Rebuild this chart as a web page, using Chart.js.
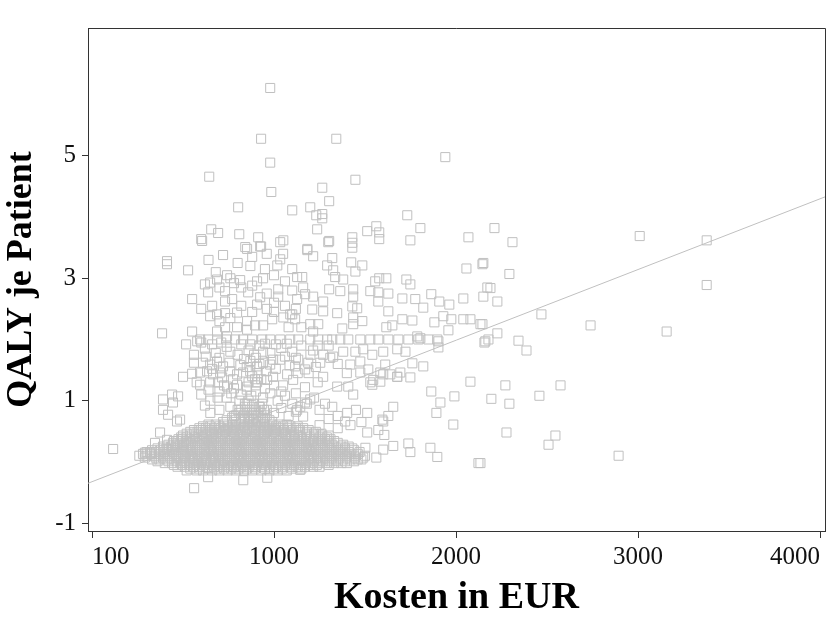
<!DOCTYPE html>
<html>
<head>
<meta charset="utf-8">
<script src="https://cdn.jsdelivr.net/npm/chart.js@4"></script>
<style>
  body { margin: 0; background: #fff; }
  #wrap { width: 837px; height: 623px; }
</style>
</head>
<body>
<div id="wrap"><canvas id="qalyChart" width="837" height="623"></canvas></div>
<script>
// --- Data ---
const xTickValues = [0, 1000, 2000, 3000, 4000];
const xTickLabels = ['100', '1000', '2000', '3000', '4000'];
const yTickValues = [-1, 1, 3, 5];

// regression line (endpoints, EUR / QALY)
const fitCosts = [-22, 4027];
const fitQalys = [-0.35, 4.33];

// sparse points above the cloud
const upperPoints = [
  [979, 6.11], [929, 5.28], [1342, 5.28], [979, 4.89], [644, 4.66], [1447, 4.61], [1265, 4.48],
  [985, 4.41], [1303, 4.26], [803, 4.16], [1100, 4.11], [1199, 4.16], [1232, 4.03], [1265, 4.05],
  [1265, 3.98], [1237, 3.80], [655, 3.80], [600, 3.64], [693, 3.74], [809, 3.72], [913, 3.67],
  [1051, 3.62], [1303, 3.61], [1430, 3.67], [1430, 3.58], [1430, 3.50], [842, 3.51], [929, 3.52],
  [1183, 3.48], [1941, 4.98], [1732, 4.03], [1804, 3.82], [1512, 3.77], [1562, 3.85], [1578, 3.75],
  [1578, 3.64], [1749, 3.62], [2068, 3.67], [2211, 3.82], [2310, 3.59],
  [3009, 3.69], [3377, 3.62], [3377, 2.89], [2739, 2.23], [3157, 2.13], [2893, 0.10]
];

// points right of the main cloud
const rightPoints = [
  [2150, 3.25], [2293, 3.07], [2189, 2.84], [2150, 2.70], [2227, 2.62], [2469, 2.41], [2145, 2.25],
  [2227, 2.10], [2178, 2.00], [2156, 1.95], [2343, 1.98], [2387, 1.82], [2271, 1.25], [2574, 1.25],
  [2194, 1.03], [2293, 0.95], [2458, 1.08], [2277, 0.48], [2546, 0.43], [2508, 0.28], [2134, -0.02],
  [2057, 3.16], [2145, 3.23], [2172, 2.85], [2040, 2.67], [1963, 2.57], [1908, 2.62], [1864, 2.74],
  [1776, 2.66], [1705, 2.67], [1820, 2.52], [1628, 2.46], [1974, 2.33], [2040, 2.33], [2079, 2.33],
  [2134, 2.25], [1930, 2.38], [1881, 2.28], [1760, 2.31], [1705, 2.33], [1650, 2.23], [1617, 2.20],
  [1958, 2.15], [1787, 2.05], [1804, 2.02], [1903, 1.97], [1903, 1.87], [2161, 1.97],
  [1820, 1.56], [1760, 1.61], [1749, 1.38], [1677, 1.39], [1611, 1.59], [1600, 1.43], [1545, 1.34],
  [1540, 1.26], [2079, 1.31], [1991, 1.07], [1914, 0.97], [1864, 1.15], [1892, 0.80], [1985, 0.61],
  [1655, 0.90], [1628, 0.75], [1600, 0.66], [1573, 0.52], [1512, 0.48], [1606, 0.44], [1859, 0.23],
  [1897, 0.08], [2123, -0.02], [1738, 0.30], [1749, 0.16], [1655, 0.26], [1600, 0.20], [1562, 0.07],
  [1502, 0.23], [1144, -0.13]
];

// upper cloud between 2 and 3.6 QALY
const midPoints = [
  [1298, 3.59], [1183, 3.46], [1215, 3.36], [1292, 3.21], [1320, 3.33], [1424, 3.26], [1485, 3.21],
  [1447, 3.11], [1325, 3.13], [1127, 3.02], [1155, 3.02], [1336, 3.02], [1380, 2.98], [1556, 2.95],
  [1578, 3.00], [1617, 3.00], [1727, 2.98], [1749, 2.90], [1303, 2.82], [1364, 2.79], [1435, 2.82],
  [1435, 2.70], [1529, 2.79], [1573, 2.77], [1628, 2.75], [1573, 2.62], [1127, 2.66], [1171, 2.74],
  [1215, 2.70], [1270, 2.62], [1210, 2.49], [1270, 2.46], [1347, 2.43], [1430, 2.54], [1457, 2.51],
  [1485, 2.30], [1435, 2.36], [1435, 2.25], [1375, 2.18], [1243, 2.25], [1215, 2.13], [1199, 2.25],
  [1116, 2.33], [1100, 2.41],
  [385, 2.10], [528, 3.13], [412, 3.28], [412, 3.23], [720, 3.38], [605, 3.61], [550, 2.66],
  [638, 2.77], [517, 1.92], [550, 2.13], [578, 1.97], [500, 1.39], [550, 1.44], [649, 2.93],
  [687, 2.98], [742, 3.05], [814, 2.97], [852, 3.48], [924, 3.52], [1034, 3.59], [907, 2.95],
  [940, 3.00], [1034, 3.31], [1018, 3.21], [1023, 2.82], [1023, 2.70], [858, 2.77], [924, 2.69],
  [907, 2.57], [731, 2.79], [731, 2.62], [770, 2.66], [649, 2.38], [687, 2.41], [731, 2.43],
  [797, 2.44], [852, 2.30], [896, 2.23], [940, 2.23], [990, 2.33], [1051, 2.36], [1089, 2.41],
  [687, 2.13], [731, 2.20], [797, 2.20], [852, 2.16], [742, 2.05],
  [600, 2.50], [660, 2.55], [700, 2.30], [760, 2.35], [820, 2.55], [880, 2.45], [960, 2.50],
  [1000, 2.60], [1060, 2.55], [1120, 2.50], [1150, 2.20], [1080, 2.20], [1000, 2.45], [960, 2.75],
  [880, 2.88], [820, 2.85], [780, 2.92], [700, 2.85], [620, 2.90], [1100, 2.80], [1060, 2.95],
  [1160, 2.85], [1000, 3.05], [950, 3.15], [870, 3.20], [800, 3.25], [760, 3.00], [680, 3.10],
  [640, 3.30], [1100, 3.15], [1050, 3.40], [960, 3.40], [880, 3.35]
];

// the row of patients at exactly 2 QALY
const rowTwoCosts = [594, 638, 687, 737, 786, 830, 880, 935, 979, 1034, 1089, 1133, 1199, 1243,
  1292, 1320, 1364, 1408, 1474, 1529, 1573, 1628, 1683, 1738, 1793, 1848, 1897];

// between 0.6 and 2 QALY
const lowerPoints = [
  [1215, 1.82], [1270, 1.75], [1325, 1.72], [1380, 1.80], [1447, 1.80], [1490, 1.84], [1540, 1.75],
  [1600, 1.80], [1677, 1.84], [1722, 1.80], [1133, 1.67], [1188, 1.62], [1254, 1.62], [1309, 1.70],
  [1419, 1.59], [1474, 1.64], [1518, 1.51], [1584, 1.46], [1639, 1.43], [1694, 1.46], [1116, 1.56],
  [1171, 1.51], [1270, 1.39], [1347, 1.23], [1408, 1.23], [1435, 1.10], [1474, 1.46], [1529, 1.30],
  [1584, 1.31], [1677, 1.39], [1320, 0.90], [1402, 0.80], [1391, 0.66], [1512, 0.80], [1595, 0.69],
  [1144, 0.90], [1171, 0.97], [1199, 1.02], [1160, 0.74], [1127, 0.85],
  [610, 1.62], [649, 1.59], [687, 1.64], [720, 1.56], [594, 1.46], [632, 1.48], [665, 1.43],
  [704, 1.46], [759, 1.48], [797, 1.43], [830, 1.46], [869, 1.48], [907, 1.56], [940, 1.62],
  [979, 1.59], [995, 1.67], [1034, 1.67], [594, 1.26], [649, 1.30], [693, 1.30], [742, 1.23],
  [797, 1.26], [852, 1.23], [907, 1.30], [962, 1.34], [995, 1.39], [1072, 1.43], [1105, 1.34],
  [620, 1.85], [680, 1.78], [740, 1.88], [800, 1.75], [860, 1.82], [920, 1.90], [980, 1.78],
  [1040, 1.86], [1100, 1.80], [1150, 1.90], [700, 1.70], [900, 1.70], [1060, 1.72],
  [600, 1.10], [650, 1.00], [700, 1.15], [740, 1.05], [780, 1.20], [820, 1.10], [860, 1.00],
  [900, 1.15], [940, 1.05], [980, 1.12], [1020, 1.00], [1060, 1.08], [1100, 0.95], [760, 0.90],
  [800, 0.85], [840, 0.95], [880, 0.80], [920, 0.90], [960, 0.85], [1000, 0.80], [1040, 0.88],
  [700, 0.85], [650, 0.80], [620, 0.92], [780, 0.75], [860, 0.70], [940, 0.72], [1080, 0.75],
  [1120, 0.82], [1180, 0.95], [1220, 1.05], [1250, 0.85], [1280, 0.95], [1300, 0.70], [1350, 0.75],
  [1450, 0.85], [1480, 0.65], [1420, 0.60], [1350, 0.55], [1250, 0.60],
  [850, 1.55], [870, 1.65], [890, 1.75], [910, 1.45], [930, 1.35], [880, 1.40], [860, 1.30],
  [900, 1.25], [920, 1.60], [940, 1.80], [870, 1.92],
  [625, 1.72], [660, 1.52], [715, 1.38], [755, 1.62], [775, 1.35], [815, 1.58], [835, 1.68],
  [895, 1.35], [955, 1.48], [1010, 1.52], [1050, 1.25], [1085, 1.58], [1130, 1.45], [560, 1.62],
  [575, 1.30], [640, 1.18], [690, 1.05], [725, 1.25], [765, 1.12], [810, 1.00], [850, 1.18],
  [875, 1.08], [950, 1.20], [1000, 1.25], [1040, 1.15], [1120, 1.12], [1170, 1.22], [560, 1.75],
  [600, 1.95], [660, 1.92], [710, 1.95], [760, 1.80], [820, 1.92], [950, 1.93], [1010, 1.92],
  [1070, 1.93], [1120, 1.70], [1200, 1.75], [1240, 1.90], [1300, 1.90], [1350, 1.60], [1400, 1.45],
  [1240, 1.30], [1190, 1.45], [1230, 1.55],
  [390, 1.02], [440, 1.10], [473, 1.07], [445, 0.97], [390, 0.85], [418, 0.77], [467, 0.66],
  [484, 0.69], [346, 0.31], [374, 0.48], [412, 0.36], [319, 0.15], [291, 0.15], [116, 0.21],
  [638, -0.25], [831, -0.30], [963, -0.26], [561, -0.43]
];

// dense cloud near zero: QALY level per row and the costs on that row
const blobLevels = [-0.14, -0.11, -0.08, -0.05, -0.02, 0.01, 0.04, 0.07, 0.10, 0.13, 0.16, 0.19,
  0.22, 0.25, 0.28, 0.31, 0.34, 0.37, 0.40, 0.43, 0.46, 0.49, 0.52, 0.55, 0.58, 0.61, 0.65, 0.68,
  0.72, 0.76, 0.80, 0.85, 0.90, 0.95];
const blobCosts = [
  [520, 575, 610, 660, 700, 745, 790, 835, 880, 930, 975, 1020, 1070],
  [540, 590, 640, 685, 725, 765, 805, 850, 895, 950, 1000, 1045, 1100, 1150],
  [470, 510, 555, 590, 630, 670, 705, 745, 780, 820, 860, 895, 935, 975, 1010, 1050, 1090, 1130, 1170, 1215, 1250],
  [450, 495, 535, 575, 615, 650, 690, 725, 765, 800, 840, 880, 915, 955, 995, 1030, 1070, 1110, 1150, 1195, 1235, 1300],
  [400, 440, 485, 520, 560, 600, 635, 675, 710, 750, 790, 825, 865, 905, 940, 980, 1020, 1060, 1095, 1135, 1175, 1210, 1250, 1290, 1330, 1370, 1400],
  [360, 420, 465, 505, 540, 580, 620, 655, 695, 730, 770, 810, 845, 885, 920, 960, 1000, 1040, 1080, 1115, 1155, 1195, 1235, 1270, 1310, 1350, 1390, 1440],
  [330, 370, 410, 450, 490, 530, 565, 605, 645, 680, 720, 760, 800, 835, 875, 915, 950, 990, 1030, 1070, 1105, 1145, 1185, 1220, 1260, 1300, 1340, 1380, 1420, 1460, 1480],
  [290, 350, 390, 430, 470, 510, 550, 585, 625, 665, 700, 740, 780, 820, 855, 895, 935, 970, 1010, 1050, 1090, 1125, 1165, 1205, 1240, 1280, 1320, 1360, 1400, 1445, 1490],
  [260, 300, 345, 390, 430, 470, 510, 545, 585, 625, 660, 700, 740, 780, 815, 855, 895, 930, 970, 1010, 1050, 1085, 1125, 1165, 1200, 1240, 1280, 1320, 1360, 1400, 1440, 1500],
  [280, 325, 370, 410, 450, 490, 530, 565, 605, 645, 680, 720, 760, 800, 835, 875, 915, 950, 990, 1030, 1070, 1105, 1145, 1185, 1220, 1260, 1300, 1340, 1380, 1420, 1460],
  [300, 350, 395, 440, 480, 520, 555, 595, 635, 670, 710, 750, 790, 825, 865, 905, 940, 980, 1020, 1060, 1095, 1135, 1175, 1210, 1250, 1290, 1330, 1370, 1410, 1470],
  [330, 375, 420, 460, 500, 540, 575, 615, 655, 690, 730, 770, 810, 845, 885, 925, 960, 1000, 1040, 1080, 1115, 1155, 1195, 1230, 1270, 1310, 1350, 1390, 1440],
  [360, 410, 455, 495, 535, 575, 615, 650, 690, 730, 770, 805, 845, 885, 920, 960, 1000, 1040, 1075, 1115, 1155, 1190, 1230, 1270, 1310, 1350, 1390, 1430],
  [390, 435, 475, 515, 555, 595, 635, 670, 710, 750, 790, 825, 865, 905, 940, 980, 1020, 1060, 1095, 1135, 1175, 1210, 1250, 1290, 1330, 1370, 1410],
  [420, 465, 505, 545, 585, 625, 660, 700, 740, 780, 815, 855, 895, 930, 970, 1010, 1050, 1085, 1125, 1165, 1200, 1240, 1280, 1320, 1380],
  [445, 485, 525, 565, 605, 645, 680, 720, 760, 800, 835, 875, 915, 950, 990, 1030, 1070, 1105, 1145, 1185, 1220, 1260, 1300, 1350],
  [450, 470, 515, 555, 595, 635, 670, 710, 750, 790, 825, 865, 905, 940, 980, 1020, 1060, 1095, 1135, 1175, 1215, 1260, 1300, 1330],
  [475, 495, 535, 575, 615, 655, 690, 730, 770, 810, 845, 885, 925, 960, 1000, 1040, 1080, 1115, 1155, 1195, 1240, 1280, 1310],
  [490, 520, 565, 605, 645, 680, 720, 760, 800, 835, 875, 915, 950, 990, 1030, 1070, 1110, 1150, 1200, 1250, 1290],
  [500, 540, 585, 625, 660, 700, 740, 780, 815, 855, 895, 930, 970, 1010, 1050, 1090, 1130, 1175, 1220, 1265, 1300],
  [520, 560, 600, 640, 680, 715, 755, 795, 830, 870, 910, 945, 985, 1025, 1065, 1110, 1180, 1220, 1260],
  [540, 580, 620, 660, 700, 735, 775, 815, 850, 890, 930, 965, 1005, 1045, 1090, 1140, 1180, 1230],
  [560, 600, 650, 690, 730, 770, 810, 850, 890, 930, 970, 1010, 1055, 1100, 1140, 1190],
  [590, 625, 670, 710, 750, 790, 830, 870, 910, 950, 990, 1030, 1075, 1120, 1160],
  [610, 650, 700, 745, 790, 835, 880, 925, 970, 1010, 1050, 1090, 1130],
  [640, 680, 725, 770, 810, 855, 900, 945, 990, 1030, 1070],
  [720, 770, 820, 865, 910, 950, 990],
  [740, 790, 840, 885, 930, 975],
  [770, 820, 860, 900, 940],
  [790, 835, 875, 915, 960],
  [810, 850, 890, 930],
  [820, 860, 900, 945],
  [840, 880, 920],
  [850, 890, 935]
];

// --- Build datasets ---
const toXY = (p) => ({ x: p[0], y: p[1] });
const scatterData = []
  .concat(upperPoints.map(toXY))
  .concat(rightPoints.map(toXY))
  .concat(midPoints.map(toXY))
  .concat(rowTwoCosts.map((c) => ({ x: c, y: 2.0 })))
  .concat(lowerPoints.map(toXY));
blobLevels.forEach((lvl, i) => {
  blobCosts[i].forEach((c) => scatterData.push({ x: c, y: lvl }));
});
const fitData = fitCosts.map((c, i) => ({ x: c, y: fitQalys[i] }));

const SERIF = "'Liberation Serif', 'Times New Roman', serif";
const POINT_GREY = '#c0c0c0';
const AXIS_COLOR = '#333';

// draws the top and right edges of the plot frame
const frameBox = {
  id: 'frameBox',
  afterDraw(chart) {
    const { ctx, chartArea: a } = chart;
    ctx.save();
    ctx.strokeStyle = AXIS_COLOR;
    ctx.lineWidth = 1;
    ctx.beginPath();
    ctx.moveTo(a.left, a.top + 0.5);
    ctx.lineTo(a.right + 0.5, a.top + 0.5);
    ctx.lineTo(a.right + 0.5, a.bottom);
    ctx.stroke();
    ctx.restore();
  }
};

new Chart(document.getElementById('qalyChart'), {
  type: 'scatter',
  data: {
    datasets: [
      {
        data: scatterData,
        pointStyle: 'rect',
        pointRadius: 6.4,
        borderColor: POINT_GREY,
        backgroundColor: 'rgba(0,0,0,0)',
        borderWidth: 1
      },
      {
        type: 'line',
        data: fitData,
        borderColor: POINT_GREY,
        borderWidth: 1,
        pointRadius: 0,
        fill: false
      }
    ]
  },
  options: {
    responsive: false,
    animation: false,
    events: [],
    layout: { padding: { top: 28, right: 12, left: 0, bottom: 0 } },
    plugins: { legend: { display: false }, tooltip: { enabled: false } },
    scales: {
      x: {
        type: 'linear',
        min: -22,
        max: 4027,
        afterBuildTicks: (scale) => { scale.ticks = xTickValues.map((v) => ({ value: v })); },
        afterFit: (scale) => { scale.height = 92; },
        grid: { drawOnChartArea: false, drawTicks: true, tickLength: 7, color: AXIS_COLOR },
        border: { display: true, color: AXIS_COLOR, width: 1 },
        ticks: {
          align: 'inner',
          autoSkip: false,
          maxRotation: 0,
          padding: 4,
          color: '#111',
          font: { family: SERIF, size: 25 },
          callback: (v) => xTickLabels[xTickValues.indexOf(v)]
        },
        title: {
          display: true,
          text: 'Kosten in EUR',
          color: '#000',
          padding: { top: 0, bottom: 2 },
          font: { family: SERIF, size: 38, weight: 'bold' }
        }
      },
      y: {
        type: 'linear',
        min: -1.13,
        max: 7.09,
        afterBuildTicks: (scale) => { scale.ticks = yTickValues.map((v) => ({ value: v })); },
        afterFit: (scale) => { scale.width = 88; },
        grid: { drawOnChartArea: false, drawTicks: true, tickLength: 6, color: AXIS_COLOR },
        border: { display: true, color: AXIS_COLOR, width: 1 },
        ticks: {
          padding: 6,
          color: '#111',
          font: { family: SERIF, size: 25 },
          callback: (v) => String(v)
        },
        title: {
          display: true,
          text: 'QALY je Patient',
          color: '#000',
          padding: { top: 0, bottom: 0 },
          font: { family: SERIF, size: 36, weight: 'bold' }
        }
      }
    }
  },
  plugins: [frameBox]
});
</script>
</body>
</html>
